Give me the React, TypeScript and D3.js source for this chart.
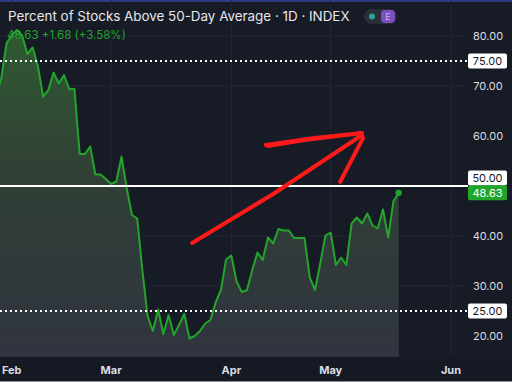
import React from "react";
import * as d3 from "d3";

// ---- data (one value per trading day; first value is 3 bars before Feb 1) ----
const firstBarIndex = -3;
const values = [
  68, 71.5, 78.5, 80.2, 81.2, 80.1, 76.4, 77.7, 74.0, 67.9,
  69.2, 72.7, 70.5, 72.2, 69.4, 69.4, 56.4, 56.4, 57.9, 52.3,
  52.3, 51.4, 50.4, 50.9, 55.9, 49.5, 44.2, 43.5, 33.0, 23.9,
  21.0, 25.3, 20.4, 24.2, 20.2, 22.2, 24.4, 19.5, 20.0, 21.0,
  22.5, 23.2, 26.7, 29.2, 35.3, 36.1, 30.9, 28.8, 29.2, 33.2,
  36.7, 35.2, 39.7, 38.5, 41.4, 41.1, 41.1, 39.6, 39.6, 39.6,
  31.7, 29.2, 34.5, 40.1, 40.7, 34.2, 35.7, 34.2, 42.5, 43.7,
  42.5, 44.5, 42.1, 41.5, 45.3, 39.7, 46.95, 48.63,
];
const monthLabels = ["Feb", "Mar", "Apr", "May", "Jun"];
const monthBarIndex = [0, 19, 42, 61, 84];
const yTicks = [20, 30, 40, 50, 60, 70, 80];
const dottedLevels = [75, 25];
const solidLevel = 50;
const title = "Percent of Stocks Above 50-Day Average · 1D · INDEX";
const lastChange = 1.68;
const lastChangePct = 3.58;
// hand-drawn annotation arrow, in [bar index, value]
const arrowShaft: [number, number][] = [[34.5, 38.6], [50, 48.4], [67, 60.2]];
const arrowHeadTop: [number, number][] = [[48.6, 58.2], [58, 59.6], [67, 60.6], [56, 59.2], [49, 58.0]];
const arrowHeadRight: [number, number][] = [[62.8, 50.8], [65.3, 55.8], [67.2, 59.6]];

const W = 512;
const H = 382;
const paneRight = 468;
const paneBottom = 357;

const BG = "#171b26";
const GRID = "#222635";
const GREEN = "#22a52b";
const AXIS_TEXT = "#dadce2";
const FONT = "Inter, 'Noto Sans', sans-serif";

export default function App() {
  const x = d3.scaleLinear().domain([-2.24, 87.26]).range([0, paneRight]);
  const y = d3.scaleLinear().domain([20, 80]).range([336, 36]);

  const pts = values.map((v, k) => ({ i: firstBarIndex + k, v }));
  const line = d3
    .line<{ i: number; v: number }>()
    .x((d) => x(d.i))
    .y((d) => y(d.v));
  const area = d3
    .area<{ i: number; v: number }>()
    .x((d) => x(d.i))
    .y0(paneBottom)
    .y1((d) => y(d.v));

  const last = pts[pts.length - 1];
  const lastValue = last.v;

  const arrowLine = d3
    .line<[number, number]>()
    .x((d) => x(d[0]))
    .y((d) => y(d[1]))
    .curve(d3.curveCatmullRom);

  const boxes = [
    { v: 75, cy: y(75), fill: "#ffffff", color: "#131722", label: "75.00" },
    { v: 50, cy: y(50) - 8, fill: "#ffffff", color: "#131722", label: "50.00" },
    { v: lastValue, cy: y(lastValue), fill: GREEN, color: "#ffffff", label: lastValue.toFixed(2) },
    { v: 25, cy: y(25), fill: "#ffffff", color: "#131722", label: "25.00" },
  ];

  return (
    <svg
      width={W}
      height={H}
      style={{ position: "absolute", left: 0, top: 0, display: "block" }}
      fontFamily={FONT}
    >
      <defs>
        <linearGradient id="areaFill" gradientUnits="userSpaceOnUse" x1="0" y1={y(81)} x2="0" y2={paneBottom}>
          <stop offset="0" stopColor="#2f5a31" />
          <stop offset="0.45" stopColor="#313f36" />
          <stop offset="1" stopColor="#30343f" />
        </linearGradient>
        <clipPath id="pane">
          <rect x={0} y={0} width={paneRight} height={paneBottom} />
        </clipPath>
      </defs>
      <rect x={0} y={0} width={W} height={H} fill={BG} />
      <rect x={0} y={paneBottom} width={W} height={H - paneBottom} fill="#151924" />
      <rect x={0} y={0} width={W} height={2} fill="#2a3b82" />
      <rect x={0} y={H - 1} width={W} height={1} fill="#8b8e96" />

      {/* grid */}
      <g clipPath="url(#pane)">
        {yTicks.map((t) => (
          <line key={t} x1={0} x2={paneRight} y1={y(t)} y2={y(t)} stroke={GRID} strokeWidth={1} />
        ))}
        {monthBarIndex.map((m, k) => (
          <line key={k} x1={x(m)} x2={x(m)} y1={0} y2={paneBottom} stroke={GRID} strokeWidth={1} />
        ))}
        <path d={area(pts) || ""} fill="url(#areaFill)" />
        <path d={line(pts) || ""} fill="none" stroke={GREEN} strokeWidth={2} strokeLinejoin="round" />
        {dottedLevels.map((lv) => (
          <line
            key={lv}
            x1={0}
            x2={paneRight}
            y1={y(lv)}
            y2={y(lv)}
            stroke="#ffffff"
            strokeWidth={2}
            strokeDasharray="2 3"
          />
        ))}
        <line x1={0} x2={paneRight} y1={y(solidLevel)} y2={y(solidLevel)} stroke="#ffffff" strokeWidth={2} />
        <circle cx={x(last.i)} cy={y(last.v)} r={3.2} fill={GREEN} />
        {/* annotation arrow */}
        <g fill="none" stroke="#ff1a1a" strokeWidth={4} strokeLinecap="round" strokeLinejoin="round">
          <path d={d3.line<[number, number]>().x((d) => x(d[0])).y((d) => y(d[1]))(arrowShaft) || ""} />
          <path d={d3.line<[number, number]>().x((d) => x(d[0])).y((d) => y(d[1]))(arrowHeadTop) || ""} />
          <path d={arrowLine(arrowHeadRight) || ""} />
        </g>
      </g>

      {/* price axis labels */}
      {yTicks
        .filter((t) => boxes.every((b) => Math.abs(b.cy - y(t)) > 9))
        .map((t) => (
          <text key={t} x={488} y={y(t)} dy="0.36em" textAnchor="middle" fontSize={11} fill={AXIS_TEXT}>
            {t.toFixed(2)}
          </text>
        ))}
      {boxes.map((b) => (
        <g key={b.label}>
          <rect x={468} y={b.cy - 7.5} width={39} height={15} rx={2} fill={b.fill} />
          <text x={487.5} y={b.cy} dy="0.36em" textAnchor="middle" fontSize={11} fill={b.color}>
            {b.label}
          </text>
        </g>
      ))}

      {/* time axis labels */}
      {monthLabels.map((m, k) => (
        <text key={m} x={x(monthBarIndex[k])} y={374} textAnchor="middle" fontSize={11} fontWeight={700} fill={AXIS_TEXT}>
          {m}
        </text>
      ))}

      {/* legend */}
      <text x={8} y={21} fontSize={13.4} fill="#e6e7eb">
        {title}
      </text>
      <g>
        <rect x={364} y={9} width={33} height={15} rx={7.5} fill="#2a2e39" />
        <circle cx={372} cy={16.5} r={3} fill="#26a69a" />
        <rect x={381} y={10} width={14} height={13} rx={4} fill="#7b4fc0" />
        <text x={388} y={20} textAnchor="middle" fontSize={9} fill="#c9b6ee">E</text>
      </g>
      <text x={7} y={38.5} fontSize={11.5} fill={GREEN}>
        {`${lastValue.toFixed(2)} +${lastChange.toFixed(2)} (+${lastChangePct.toFixed(2)}%)`}
      </text>
    </svg>
  );
}
